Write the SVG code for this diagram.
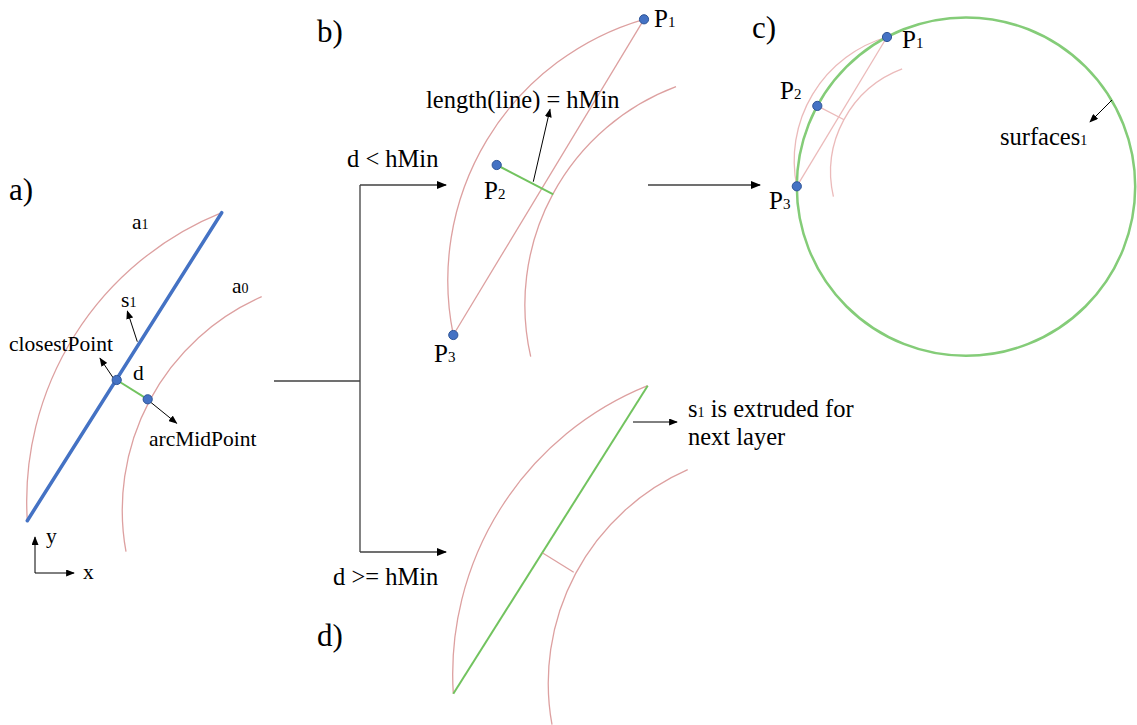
<svg xmlns="http://www.w3.org/2000/svg" width="1137" height="725" viewBox="0 0 1137 725">
<style>
text{font-family:"Liberation Serif","Times New Roman",serif;fill:#000}
.lbl{font-size:31px}
.ta{font-size:21.5px}
.tb{font-size:24.5px}
.tp{font-size:25px}
.sub{font-size:14px}
.subp{font-size:15px}
.pink{fill:none;stroke:#DDA0A0;stroke-width:1.3}
.pinkc{fill:none;stroke:#EBBABA;stroke-width:1.3}
.blue{fill:none;stroke:#4472C4;stroke-width:3.5;stroke-linecap:round}
.green{fill:none;stroke:#72C35F;stroke-width:2}
.dot{fill:#4472C4;stroke:#2F5597;stroke-width:1}
.arr{fill:none;stroke:#000;stroke-width:1;marker-end:url(#ah)}
.con{fill:none;stroke:#404040;stroke-width:1.3}
.cona{fill:none;stroke:#404040;stroke-width:1.3;marker-end:url(#ahb)}
</style>
<defs>
<marker id="ah" viewBox="0 0 10 8" refX="9" refY="4" markerWidth="9" markerHeight="7" markerUnits="userSpaceOnUse" orient="auto"><path d="M0,0 L10,4 L0,8 z" fill="#000"/></marker>
<marker id="ahb" viewBox="0 0 10 8" refX="9" refY="4" markerWidth="10" markerHeight="8" markerUnits="userSpaceOnUse" orient="auto"><path d="M0,0 L10,4 L0,8 z" fill="#000"/></marker>
</defs>

<g id="labels">
<text class="lbl" x="9" y="200">a)</text>
<text class="lbl" x="317" y="42">b)</text>
<text class="lbl" x="752" y="38">c)</text>
<text class="lbl" x="317" y="646">d)</text>
</g>

<g id="panel-a">
<path class="pink" d="M221.7,212.7 A311,311 0 0 0 27.3,520.7"/>
<path class="pink" d="M261.7,296.7 A233,233 0 0 0 126,551.7"/>
<line class="blue" x1="221.7" y1="212.7" x2="27.3" y2="520.7"/>
<line class="green" x1="116.7" y1="380" x2="147.7" y2="399.3"/>
<line class="arr" x1="137.3" y1="341.7" x2="127.3" y2="311"/>
<line class="arr" x1="113.3" y1="378" x2="100" y2="358.3"/>
<line class="arr" x1="150" y1="401.7" x2="176.7" y2="423.3"/>
<circle class="dot" cx="116.7" cy="380" r="4.6"/>
<circle class="dot" cx="147.7" cy="399.3" r="4.6"/>
<text class="ta" x="132" y="229" font-size="23">a<tspan class="sub">1</tspan></text>
<text class="ta" x="232" y="293" font-size="23">a<tspan class="sub">0</tspan></text>
<text class="ta" x="121" y="307" font-size="23">s<tspan class="sub">1</tspan></text>
<text class="ta" x="9" y="351">closestPoint</text>
<text class="ta" x="133" y="380" font-size="24">d</text>
<text class="ta" x="149" y="446">arcMidPoint</text>
<line class="arr" x1="35" y1="573" x2="35" y2="537"/>
<line class="arr" x1="35" y1="573" x2="74" y2="573"/>
<text class="ta" x="46" y="543" font-size="24">y</text>
<text class="ta" x="83" y="579" font-size="24">x</text>
</g>

<g id="panel-b">
<path class="pink" d="M644,19.3 A272,272 0 0 0 453.3,335"/>
<path class="pink" d="M676,86.7 A233,233 0 0 0 530.7,356.7"/>
<line class="pink" x1="644" y1="19.3" x2="453.3" y2="335"/>
<line class="green" x1="496.7" y1="165" x2="553.3" y2="194.3"/>
<line class="arr" x1="533.3" y1="181.7" x2="550" y2="109.3"/>
<circle class="dot" cx="644" cy="19.3" r="4.6"/>
<circle class="dot" cx="496.7" cy="165" r="4.6"/>
<circle class="dot" cx="453.3" cy="335" r="4.6"/>
<text class="tp" x="654" y="27">P<tspan class="subp">1</tspan></text>
<text class="tp" x="484" y="199">P<tspan class="subp">2</tspan></text>
<text class="tp" x="434" y="362">P<tspan class="subp">3</tspan></text>
<text class="tb" x="426" y="108">length(line) = hMin</text>
</g>

<g id="panel-c">
<g transform="translate(887,37) scale(0.473) translate(-644,-19.3)">
<path class="pinkc" vector-effect="non-scaling-stroke" d="M644,19.3 A272,272 0 0 0 453.3,335"/>
<path class="pinkc" vector-effect="non-scaling-stroke" d="M676,86.7 A233,233 0 0 0 530.7,356.7"/>
<line class="pinkc" vector-effect="non-scaling-stroke" x1="644" y1="19.3" x2="453.3" y2="335"/>
<line class="pinkc" vector-effect="non-scaling-stroke" x1="496.7" y1="165" x2="553.3" y2="194.3"/>
</g>
<circle cx="966" cy="186.6" r="169.2" fill="none" stroke="#84CC78" stroke-width="2.5"/>
<circle class="dot" cx="887" cy="37" r="4.6"/>
<circle class="dot" cx="817.3" cy="105.9" r="4.6"/>
<circle class="dot" cx="796.8" cy="186.3" r="4.6"/>
<text class="tp" x="902" y="48">P<tspan class="subp">1</tspan></text>
<text class="tp" x="780" y="99">P<tspan class="subp">2</tspan></text>
<text class="tp" x="769" y="209">P<tspan class="subp">3</tspan></text>
<line class="arr" x1="1112" y1="100" x2="1090" y2="122"/>
<text class="tb" x="1000" y="145">surfaces<tspan class="sub">1</tspan></text>
</g>

<g id="panel-d">
<g transform="translate(426,173)">
<path class="pink" d="M221.7,212.7 A311,311 0 0 0 27.3,520.7"/>
<path class="pink" d="M261.7,296.7 A233,233 0 0 0 126,551.7"/>
<line class="green" x1="221.7" y1="212.7" x2="27.3" y2="520.7"/>
<line class="pink" x1="116.7" y1="380" x2="147.7" y2="399.3"/>
</g>
<line class="arr" x1="633" y1="422" x2="677" y2="422"/>
<text class="tb" x="688" y="417">s<tspan class="sub">1</tspan> is extruded for</text>
<text class="tb" x="688" y="445">next layer</text>
</g>

<g id="connectors">
<polyline class="con" points="274,381 360,381"/>
<polyline class="con" points="360,185 360,552"/>
<line class="cona" x1="360" y1="185" x2="446" y2="185"/>
<line class="cona" x1="360" y1="552" x2="446" y2="552"/>
<line class="cona" x1="648" y1="185" x2="760" y2="185"/>
<text class="tb" x="347" y="167">d &lt; hMin</text>
<text class="tb" x="333" y="585">d &gt;= hMin</text>
</g>
</svg>
